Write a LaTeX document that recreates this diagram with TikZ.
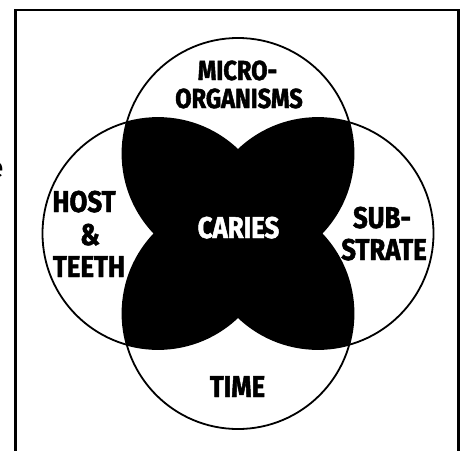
\documentclass[tikz,border=0pt]{standalone}
\usepackage{fontspec}
\newfontfamily\lblfont{Fira Sans}[FakeStretch=0.86, BoldFeatures={FakeBold=1.6}]
\newfontfamily\efont{Fira Sans}
\begin{document}
\begin{tikzpicture}[x=1pt,y=-1pt,
  ring/.style={draw=black, line width=1.8pt},
  frame/.style={draw=black, line width=2.5pt},
  lbl/.style={font=\lblfont\bfseries\fontsize{30}{30}\selectfont, inner sep=0pt, anchor=base},
  lblsmall/.style={lbl, font=\lblfont\bfseries\fontsize{27.5}{27.5}\selectfont}]
\useasboundingbox (0,0) rectangle (463,450);
\fill[white] (0,0) rectangle (463,450);
\node[font=\efont\fontsize{28}{28}\selectfont, inner sep=0pt, anchor=base east] (efrag) at (4,177) {e};
\draw[frame] (15.5,452) -- (15.5,10) -- (458.3,10) -- (458.3,452);
\coordinate (T) at (238,153.5);
\coordinate (B) at (238,313.5);
\coordinate (L) at (158,233.5);
\coordinate (R) at (318,233.5);
\foreach \a/\b in {T/L,T/R,B/L,B/R,T/B,L/R}{
  \begin{scope}
    \clip (\a) circle[radius=115.5pt];
    \fill[black] (\b) circle[radius=115.5pt];
  \end{scope}
}
\foreach \c in {T,B,L,R}{\draw[ring] (\c) circle[radius=115.5pt];}
\node[lblsmall] (micro) at (237.5,80) {MICRO-};
\node[lblsmall] (organisms) at (239,108) {ORGANISMS};
\node[lbl] (host) at (84,212) {HOST};
\node[lbl] (amp) at (90,245) {\&};
\node[lbl] (teeth) at (89,277) {TEETH};
\node[lbl] (sub) at (382,228) {SUB-};
\node[lbl] (strate) at (384,260) {STRATE};
\node[lbl, text=white] (caries) at (238.5,238) {CARIES};
\node[lbl] (time) at (237.5,397) {TIME};
\end{tikzpicture}
\end{document}
